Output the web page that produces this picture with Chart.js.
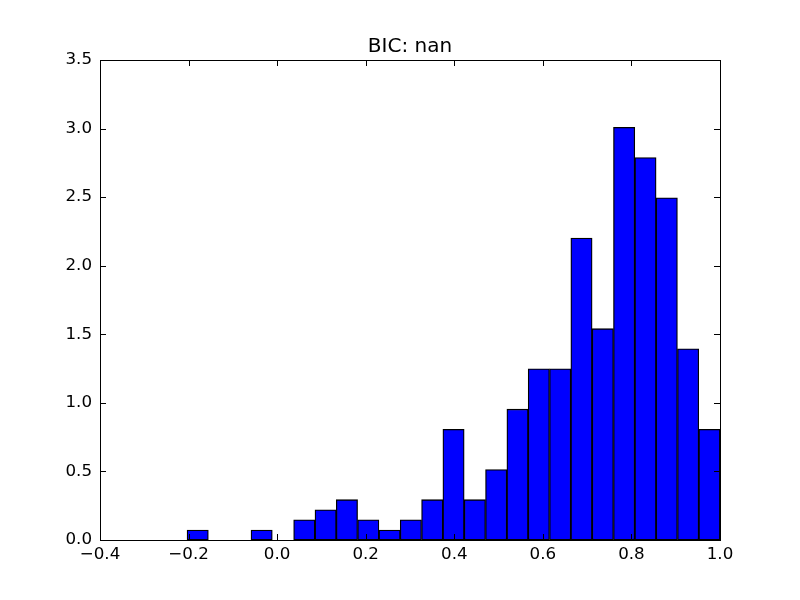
<!DOCTYPE html>
<html>
<head>
<meta charset="utf-8">
<script src="https://cdn.jsdelivr.net/npm/chart.js@4/dist/chart.umd.min.js"></script>
<style>
  html, body { margin: 0; padding: 0; background: #fff; }
  #wrap { width: 800px; height: 600px; }
</style>
</head>
<body>
<div id="wrap"><canvas id="hist"></canvas></div>
<script>
// histogram bin centres (bin width ~0.048, last edge at 1.0)
const binCenters = [-0.1794, -0.1313, -0.0831, -0.0350, 0.0132, 0.0613, 0.1095, 0.1576,
    0.2058, 0.2539, 0.3020, 0.3502, 0.3983, 0.4465, 0.4946, 0.5428, 0.5909, 0.6391,
    0.6872, 0.7354, 0.7835, 0.8317, 0.8798, 0.9280, 0.9761];
// normalised density per bin
const density = [0.073, 0, 0, 0.073, 0, 0.147, 0.220, 0.294, 0.147, 0.073, 0.147, 0.294,
    0.807, 0.294, 0.514, 0.954, 1.248, 1.248, 2.202, 1.541, 3.009, 2.789, 2.495, 1.394, 0.807];
const xTicks = [-0.4, -0.2, 0.0, 0.2, 0.4, 0.6, 0.8, 1.0];
const yTicks = [0.0, 0.5, 1.0, 1.5, 2.0, 2.5, 3.0, 3.5];

const fmt = v => (v < 0 ? "\u2212" : "") + Math.abs(v).toFixed(1);

// matplotlib-style frame with inward ticks on all four sides
const frame = {
    id: "frame",
    afterDatasetsDraw(chart) {
        const { ctx, chartArea: a, scales } = chart;
        const len = 6;
        ctx.save();
        ctx.strokeStyle = "#000";
        ctx.lineWidth = 1;
        ctx.beginPath();
        scales.x.ticks.forEach(t => {
            const px = Math.round(scales.x.getPixelForValue(t.value)) + 0.5;
            ctx.moveTo(px, a.bottom); ctx.lineTo(px, a.bottom - len);
            ctx.moveTo(px, a.top); ctx.lineTo(px, a.top + len);
        });
        scales.y.ticks.forEach(t => {
            const py = Math.round(scales.y.getPixelForValue(t.value)) + 0.5;
            ctx.moveTo(a.left, py); ctx.lineTo(a.left + len, py);
            ctx.moveTo(a.right, py); ctx.lineTo(a.right - len, py);
        });
        ctx.stroke();
        ctx.strokeRect(Math.round(a.left) + 0.5, Math.round(a.top) + 0.5,
            Math.round(a.right - a.left), Math.round(a.bottom - a.top));
        ctx.restore();
    }
};

Chart.defaults.font.family = "'DejaVu Sans', sans-serif";
Chart.defaults.color = "#000";

new Chart(document.getElementById("hist"), {
    type: "bar",
    data: {
        datasets: [{
            data: binCenters.map((c, i) => ({ x: c, y: density[i] })),
            backgroundColor: "#0000ff",
            borderColor: "#000",
            borderWidth: 1.3,
            borderSkipped: false,
            barPercentage: 1.0,
            categoryPercentage: 1.0
        }]
    },
    options: {
        responsive: true,
        maintainAspectRatio: false,
        animation: false,
        layout: { padding: { left: 0, right: 80, top: 0, bottom: 0 } },
        plugins: {
            legend: { display: false },
            tooltip: { enabled: false },
            title: {
                display: true,
                fullSize: false, // centre over the plot area, not the canvas
                text: "BIC: nan",
                font: { size: 20, weight: "normal" },
                padding: { top: 35, bottom: 1 }
            }
        },
        scales: {
            x: {
                type: "linear",
                min: -0.4,
                max: 1.0,
                offset: false,
                afterBuildTicks: s => { s.ticks = xTicks.map(v => ({ value: v })); },
                afterFit: s => { s.height = 60; },
                ticks: { font: { size: 16.7 }, padding: 5, maxRotation: 0, callback: v => fmt(v) },
                grid: { display: false, drawTicks: false },
                border: { display: false }
            },
            y: {
                min: 0,
                max: 3.5,
                afterBuildTicks: s => { s.ticks = yTicks.map(v => ({ value: v })); },
                afterFit: s => { s.width = 100; },
                ticks: { font: { size: 16.7 }, padding: 8, callback: v => fmt(v) },
                grid: { display: false, drawTicks: false },
                border: { display: false }
            }
        }
    },
    plugins: [frame]
});
</script>
</body>
</html>
